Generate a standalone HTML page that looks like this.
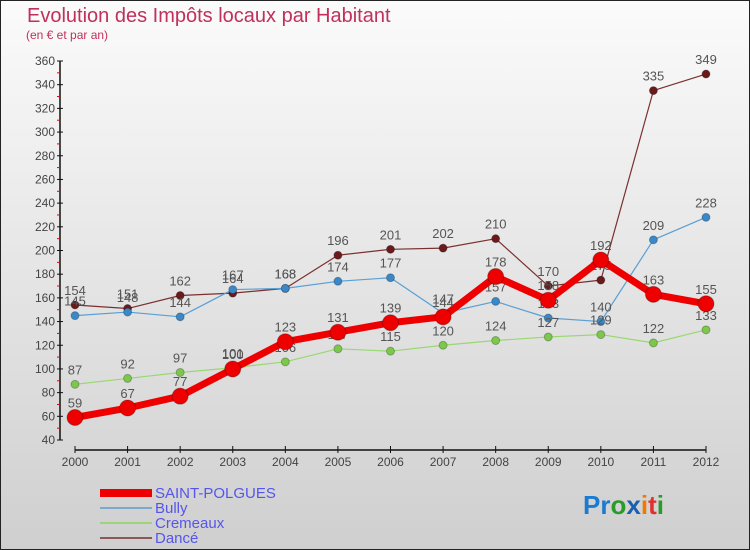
<!DOCTYPE html>
<html><head><meta charset="utf-8"><style>
body{margin:0;width:750px;height:550px;overflow:hidden;font-family:"Liberation Sans",sans-serif}
svg{display:block}
</style></head><body>
<svg id="c" width="750" height="550" xmlns="http://www.w3.org/2000/svg">
<defs><linearGradient id="bg" x1="0" y1="0" x2="0" y2="1"><stop offset="0" stop-color="#fbfbfb"/><stop offset="1" stop-color="#cfcfcf"/></linearGradient></defs>
<rect x="0.5" y="0.5" width="749" height="549" fill="url(#bg)" stroke="#222"/>
<text x="27" y="22" font-size="20" fill="#c0305a">Evolution des Impôts locaux par Habitant</text>
<text x="26" y="39" font-size="12" fill="#c0305a">(en € et par an)</text>
<g id="axes"></g><g id="series"></g>
<g>
<rect x="100" y="489" width="52" height="8" fill="#e00"/>
<text x="155" y="498" font-size="15" fill="#5555ee">SAINT-POLGUES</text>
<line x1="100" y1="508" x2="152" y2="508" stroke="#7fa9cc" stroke-width="2"/>
<text x="155" y="513" font-size="15" fill="#5555ee">Bully</text>
<line x1="100" y1="523" x2="152" y2="523" stroke="#9cd47a" stroke-width="2"/>
<text x="155" y="528" font-size="15" fill="#5555ee">Cremeaux</text>
<line x1="100" y1="538" x2="152" y2="538" stroke="#8a5a5a" stroke-width="2"/>
<text x="155" y="543" font-size="15" fill="#5555ee">Dancé</text>
</g>
<text x="583" y="514" font-size="26" font-weight="bold"><tspan fill="#1a7bd0">Pr</tspan><tspan fill="#2a9a2a">o</tspan><tspan fill="#1a5fb0">x</tspan><tspan fill="#f07a00">i</tspan><tspan fill="#e03030">t</tspan><tspan fill="#2a9a2a">i</tspan></text>
</svg>
<script>
const years=[2000,2001,2002,2003,2004,2005,2006,2007,2008,2009,2010,2011,2012];
const yTicks=[40,60,80,100,120,140,160,180,200,220,240,260,280,300,320,340,360];
const saintPolgues=[59,67,77,100,123,131,139,144,178,158,192,163,155];
const bully=[145,148,144,167,168,174,177,147,157,143,140,209,228];
const cremeaux=[87,92,97,101,106,117,115,120,124,127,129,122,133];
const dance=[154,151,162,164,168,196,201,202,210,170,175,335,349];
const NS="http://www.w3.org/2000/svg";
function X(i){return 75+(706-75)*i/(years.length-1);}
function Y(v){return 440-(v-40)*(440-61)/320;}
function mk(t,a,p){const e=document.createElementNS(NS,t);for(const k in a)e.setAttribute(k,a[k]);p.appendChild(e);return e;}
const ax=document.getElementById('axes');
const yl=mk('line',{x1:60,y1:Y(360),x2:60,y2:Y(40),stroke:'#111','stroke-width':1.5},ax);


yTicks.forEach((v,k)=>{
 mk('line',{x1:57,y1:Y(v),x2:63,y2:Y(v),stroke:'#111'},ax);
 if(k<yTicks.length-1) mk('line',{x1:57,y1:Y(v+10),x2:60,y2:Y(v+10),stroke:'#e00'},ax);
 const t=mk('text',{x:55,y:Y(v)+4,'font-size':12,fill:'#444','text-anchor':'end'},ax);t.textContent=v;
 
 
});
const xl=mk('line',{x1:X(0),y1:450,x2:X(12),y2:450,stroke:'#111','stroke-width':1.5},ax);


years.forEach((y,i)=>{
 mk('line',{x1:X(i),y1:446,x2:X(i),y2:453,stroke:'#111'},ax);
 const t=mk('text',{x:X(i),y:466,'font-size':12,fill:'#444','text-anchor':'middle'},ax);t.textContent=y;
 
 
});
const sg=document.getElementById('series');
function draw(vals,name,col,dot,w,r){
 const g=mk('g',{},sg);
 
 
 mk('polyline',{points:vals.map((v,i)=>X(i)+','+Y(v)).join(' '),fill:'none',stroke:col,'stroke-width':w,'stroke-linejoin':'round'},g);
 vals.forEach((v,i)=>{
  const c=mk('circle',{cx:X(i),cy:Y(v),r:r,fill:dot,stroke:'rgba(0,0,0,0.25)'},g);
  
  
  const t=mk('text',{x:X(i),y:Y(v)-10,'font-size':13,fill:'#555','text-anchor':'middle'},g);t.textContent=v;
  
  
 });
}
draw(dance,'dance','#7a3030','#6a1a1a',1.2,4);
draw(bully,'bully','#5a9fd4','#3a88c8',1.2,4);
draw(cremeaux,'cremeaux','#98d870','#7cc84a',1.2,4);
draw(saintPolgues,'saint-polgues','#ee0000','#ee0000',7,8);
</script>
</body></html>
